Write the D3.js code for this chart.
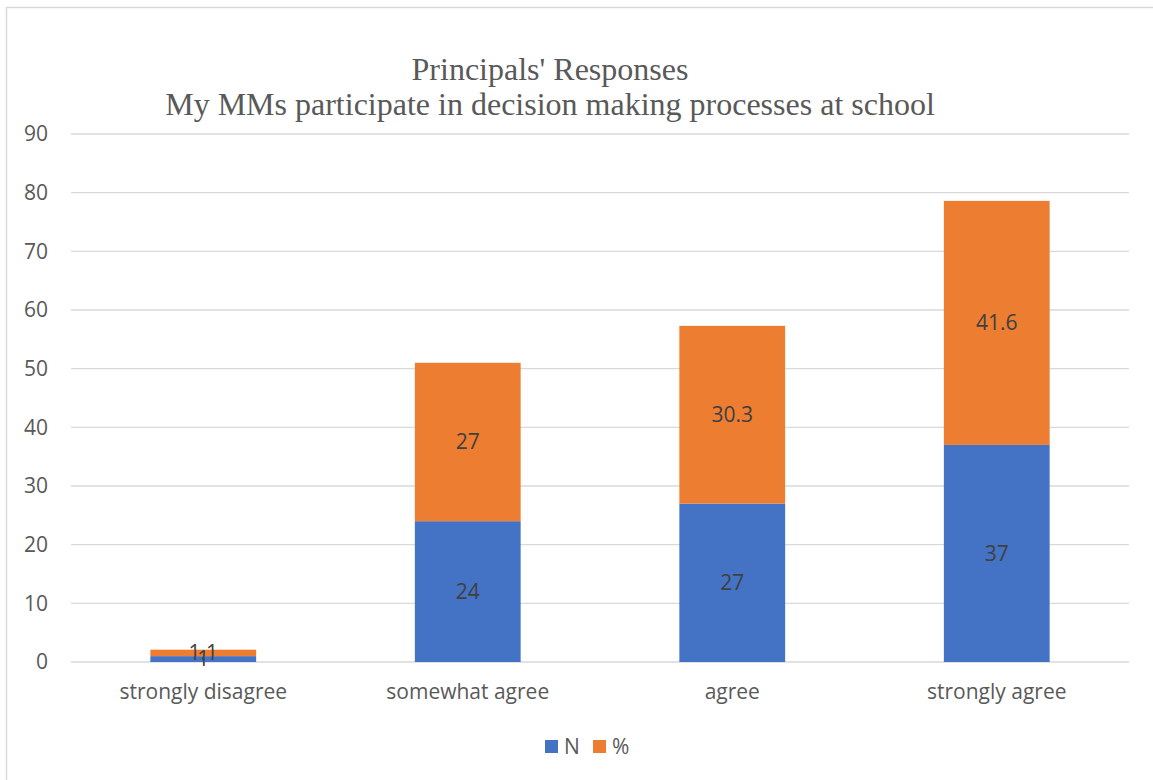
<!DOCTYPE html>
<html>
<head>
<meta charset="utf-8">
<script src="https://cdn.jsdelivr.net/npm/d3@7"></script>
<style>
  body { margin: 0; background: #fff; }
  svg { display: block; }
</style>
</head>
<body>
<script>
// chart data
var categories = ["strongly disagree", "somewhat agree", "agree", "strongly agree"];
var seriesNames = ["N", "%"];
var nValues = [1, 24, 27, 37];
var pctValues = [1.1, 27, 30.3, 41.6];
var yTicks = [0, 10, 20, 30, 40, 50, 60, 70, 80, 90];
var titleLines = ["Principals' Responses", "My MMs participate in decision making processes at school"];

var colors = { "N": "#4472C4", "%": "#ED7D31" };

var svgWidth = 1153;
var svgHeight = 780;
var plot = { left: 71, right: 1129, top: 134, bottom: 662 };
var font = "'Open Sans', sans-serif";

var svg = d3.select("body")
  .append("svg")
  .attr("width", svgWidth)
  .attr("height", svgHeight);

// chart border
svg.append("rect")
  .attr("x", 6.5)
  .attr("y", 7.5)
  .attr("width", svgWidth + 10)
  .attr("height", svgHeight + 10)
  .attr("fill", "#fff")
  .attr("stroke", "#d9d9d9")
  .attr("stroke-width", 1.5);

// build stacked table
var table = categories.map(function(c, i) {
  return { cat: c, "N": nValues[i], "%": pctValues[i] };
});
var stacked = d3.stack().keys(seriesNames)(table);

var x = d3.scaleBand()
  .domain(categories)
  .range([plot.left, plot.right])
  .paddingInner(0.6)
  .paddingOuter(0.3);

var y = d3.scaleLinear()
  .domain([0, 90])
  .range([plot.bottom, plot.top]);

// gridlines
svg.append("g")
  .selectAll("line")
  .data(yTicks)
  .enter()
  .append("line")
  .attr("x1", plot.left)
  .attr("x2", plot.right)
  .attr("y1", d => y(d))
  .attr("y2", d => y(d))
  .attr("stroke", "#d9d9d9")
  .attr("stroke-width", 1.3);

// y axis labels
var leftAxis = d3.axisLeft(y).tickValues(yTicks).tickSize(0).tickPadding(0);
var yAxisG = svg.append("g")
  .attr("transform", "translate(48,0)")
  .call(leftAxis);
yAxisG.select(".domain").remove();
yAxisG.selectAll("text")
  .attr("font-family", font)
  .attr("font-size", 21)
  .attr("fill", "#595959");

// bars
svg.append("g")
  .selectAll("g")
  .data(stacked)
  .enter()
  .append("g")
  .attr("fill", d => colors[d.key])
  .selectAll("rect")
  .data(d => d)
  .enter()
  .append("rect")
  .attr("x", d => x(d.data.cat))
  .attr("width", x.bandwidth())
  .attr("y", d => y(d[1]))
  .attr("height", d => y(d[0]) - y(d[1]));

// data labels
svg.append("g")
  .selectAll("g")
  .data(stacked)
  .enter()
  .append("g")
  .selectAll("text")
  .data(d => d.map(p => ({ p: p, key: d.key })))
  .enter()
  .append("text")
  .attr("x", d => x(d.p.data.cat) + x.bandwidth() / 2)
  .attr("y", d => y((d.p[0] + d.p[1]) / 2))
  .attr("dy", "0.35em")
  .attr("text-anchor", "middle")
  .attr("font-family", font)
  .attr("font-size", 21)
  .attr("fill", "#404040")
  .text(d => d.p.data[d.key]);

// x axis labels
var bottomAxis = d3.axisBottom(x).tickSize(0).tickPadding(0);
var xAxisG = svg.append("g")
  .attr("transform", "translate(0,684)")
  .call(bottomAxis);
xAxisG.select(".domain").remove();
xAxisG.selectAll("text")
  .attr("font-family", font)
  .attr("font-size", 21)
  .attr("fill", "#595959");

// title
svg.append("g")
  .selectAll("text")
  .data(titleLines)
  .enter()
  .append("text")
  .attr("x", 550)
  .attr("y", (d, i) => 80 + i * 35)
  .attr("text-anchor", "middle")
  .attr("font-family", "'Liberation Serif', 'Times New Roman', serif")
  .attr("font-size", 32)
  .attr("fill", "#595959")
  .text(d => d);

// legend
var legend = svg.append("g")
  .selectAll("g")
  .data(seriesNames)
  .enter()
  .append("g")
  .attr("transform", (d, i) => `translate(${545 + i * 48}, 740)`);

legend.append("rect")
  .attr("width", 13)
  .attr("height", 13)
  .attr("fill", d => colors[d]);

legend.append("text")
  .attr("x", 19)
  .attr("y", 6.5)
  .attr("dy", "0.35em")
  .attr("font-family", font)
  .attr("font-size", 21)
  .attr("fill", "#595959")
  .text(d => d);
</script>
</body>
</html>
